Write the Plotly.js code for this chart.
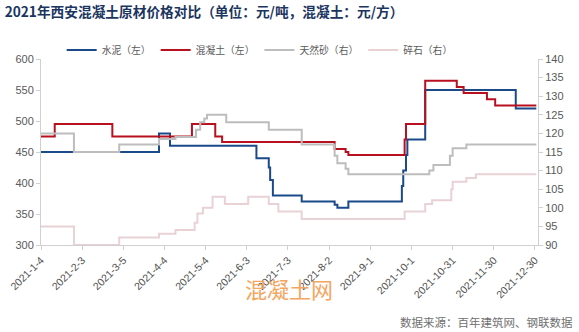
<!DOCTYPE html>
<html>
<head>
<meta charset="utf-8">
<script src="https://cdn.plot.ly/plotly-3.0.1.min.js"></script>
<style>html,body{margin:0;padding:0;background:#fff;}#chart{width:579px;height:332px;}</style>
</head>
<body>
<div id="chart"></div>
<script>
// Tick positions / labels
const tickDates = ["2021-01-04","2021-02-03","2021-03-05","2021-04-04","2021-05-04","2021-06-03","2021-07-03","2021-08-02","2021-09-01","2021-10-01","2021-10-31","2021-11-30","2021-12-30"];
const tickLabels = ["2021-1-4","2021-2-3","2021-3-5","2021-4-4","2021-5-4","2021-6-3","2021-7-3","2021-8-2","2021-9-1","2021-10-1","2021-10-31","2021-11-30","2021-12-30"];

// 水泥（左）— change points
const cementDates = ["2021-01-04","2021-03-31","2021-04-08","2021-06-10","2021-06-19","2021-06-20","2021-06-22","2021-07-13","2021-08-06","2021-08-08","2021-08-16","2021-09-24","2021-09-25","2021-09-27","2021-09-28","2021-10-11","2021-12-16","2021-12-31"];
const cementValues = [450,480,460,440,425,405,380,370,365,360,370,395,420,445,470,550,520,520];

// 混凝土（左）
const concreteDates = ["2021-01-04","2021-01-14","2021-02-25","2021-04-24","2021-05-11","2021-05-16","2021-08-06","2021-08-14","2021-08-16","2021-09-26","2021-09-27","2021-10-11","2021-11-03","2021-11-08","2021-11-25","2021-12-01","2021-12-31"];
const concreteValues = [475,495,475,495,475,466,455,450,445,470,495,565,555,545,535,525,525];

// 天然砂（右）
const sandDates = ["2021-01-04","2021-01-28","2021-03-02","2021-03-31","2021-04-12","2021-04-27","2021-04-30","2021-05-03","2021-05-05","2021-05-19","2021-06-19","2021-07-13","2021-08-06","2021-08-08","2021-08-14","2021-08-16","2021-10-14","2021-10-17","2021-10-29","2021-10-31","2021-11-10","2021-12-31"];
const sandValues = [120,115,117,118.5,119,121,123,124,125,123,121,117,114,112,110.5,109,110,111.5,114,116,117,117];

// 碎石（右）
const stoneDates = ["2021-01-04","2021-01-28","2021-03-02","2021-03-31","2021-04-12","2021-04-26","2021-04-28","2021-05-02","2021-05-09","2021-05-18","2021-06-04","2021-06-19","2021-06-26","2021-07-13","2021-09-26","2021-10-11","2021-10-16","2021-10-30","2021-10-31","2021-11-10","2021-11-17","2021-12-31"];
const stoneValues = [95,90,92,93,94,96,98.5,100,103,101,103,101,99,97,99,101,102,105,107,108,109,109];

const FONT = '"Liberation Sans", "Noto Sans CJK SC", sans-serif';
const CJK = '"Noto Sans CJK SC", sans-serif';

const traces = [
  {x: cementDates, y: cementValues, name: '水泥（左）', type: 'scatter', mode: 'lines', line: {color: '#1B4A8A', width: 2, shape: 'hv'}, yaxis: 'y'},
  {x: concreteDates, y: concreteValues, name: '混凝土（左）', type: 'scatter', mode: 'lines', line: {color: '#B8101F', width: 2, shape: 'hv'}, yaxis: 'y'},
  {x: sandDates, y: sandValues, name: '天然砂（右）', type: 'scatter', mode: 'lines', line: {color: '#BDBDBD', width: 2, shape: 'hv'}, yaxis: 'y2'},
  {x: stoneDates, y: stoneValues, name: '碎石（右）', type: 'scatter', mode: 'lines', line: {color: '#E8D2D6', width: 2, shape: 'hv'}, yaxis: 'y2'}
];

const axisCommon = {
  showgrid: false, zeroline: false, showline: true, linecolor: '#D0D0D0', linewidth: 1,
  ticks: 'outside', ticklen: 4, tickcolor: '#D0D0D0',
  tickfont: {family: FONT, size: 11, color: '#595959'}
};

const layout = {
  width: 579, height: 332,
  margin: {l: 41, r: 41, t: 59, b: 87},
  paper_bgcolor: '#ffffff', plot_bgcolor: '#ffffff',
  title: {text: '<b>2021年西安混凝土原材价格对比（单位：元/吨，混凝土：元/方）</b>', x: 0.008, xanchor: 'left', xref: 'container', y: 0.962, yanchor: 'middle', yref: 'container',
    font: {family: CJK, size: 13.7, color: '#1B355F'}},
  showlegend: true,
  legend: {orientation: 'h', x: 0.44, xanchor: 'center', y: 1.048, yanchor: 'middle',
    font: {family: CJK, size: 9.8, color: '#595959'}, itemwidth: 30, tracegroupgap: 0, bgcolor: 'rgba(0,0,0,0)'},
  xaxis: Object.assign({}, axisCommon, {
    type: 'date', range: ['2021-01-04', '2022-01-01 05:00'],
    tickmode: 'array', tickvals: tickDates, ticktext: tickLabels, tickangle: -45,
    tickfont: {family: FONT, size: 10.5, color: '#505050'}
  }),
  yaxis: Object.assign({}, axisCommon, {range: [300, 600], dtick: 50, tick0: 300}),
  yaxis2: Object.assign({}, axisCommon, {range: [90, 140], dtick: 5, tick0: 90, overlaying: 'y', side: 'right'}),
  annotations: [
    {text: '数据来源：百年建筑网、钢联数据', xref: 'paper', yref: 'paper', x: 1.074, y: -0.414, xanchor: 'right', yanchor: 'middle', showarrow: false,
      font: {family: CJK, size: 11.5, color: '#707070'}},
    {text: '混凝土网', xref: 'paper', yref: 'paper', x: 0.499, y: -0.231, xanchor: 'center', yanchor: 'middle', showarrow: false,
      font: {family: CJK, size: 22, color: '#F4A55E'}}
  ]
};

Plotly.newPlot('chart', traces, layout, {staticPlot: true, displayModeBar: false});
</script>
</body>
</html>
